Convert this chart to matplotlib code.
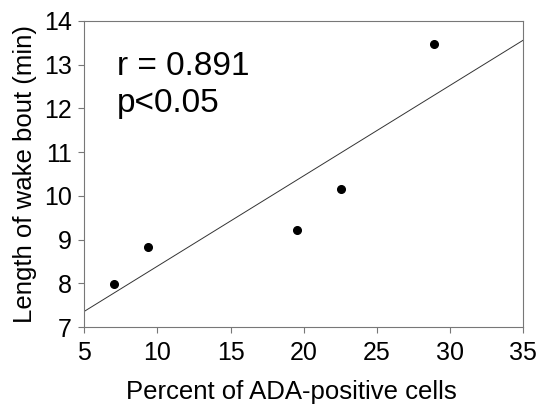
import matplotlib
matplotlib.use('Agg')
import matplotlib.pyplot as plt
import numpy as np

plt.rcParams['font.family'] = ['Liberation Sans', 'DejaVu Sans']

# данные
ada_percent = [7.05, 9.37, 19.56, 22.52, 28.88]
wake_bout = [7.99, 8.84, 9.23, 10.16, 13.47]
x_ticks = [5, 10, 15, 20, 25, 30, 35]
y_ticks = [7, 8, 9, 10, 11, 12, 13, 14]

fig = plt.figure(figsize=(5.48, 4.18), dpi=100)
ax = fig.add_axes([0.1538, 0.2177, 0.8012, 0.7321])

# линия регрессии
slope, intercept = np.polyfit(ada_percent, wake_bout, 1)
line_x = np.array([5, 35])
ax.plot(line_x, intercept + slope * line_x, color='#333333', linewidth=0.7)

ax.plot(ada_percent, wake_bout, 'o', color='black', markersize=5.5)

ax.set_xlim(5, 35)
ax.set_ylim(7, 14)
ax.set_xticks(x_ticks)
ax.set_yticks(y_ticks)

for s in ax.spines.values():
    s.set_color('#777777')
    s.set_linewidth(0.8)
ax.tick_params(direction='out', length=4, width=0.8, color='#777777',
               labelsize=18, labelcolor='black')
ax.tick_params(axis='x', pad=6)
ax.tick_params(axis='y', pad=5)

ax.set_xlabel('Percent of ADA-positive cells', fontsize=18.5, labelpad=11, x=0.472)
ax.set_ylabel('Length of wake bout (min)', fontsize=18.5, labelpad=5)

ax.text(0.074, 0.824, 'r = 0.891', transform=ax.transAxes, fontsize=24)
ax.text(0.074, 0.704, 'p<0.05', transform=ax.transAxes, fontsize=24)

plt.savefig('out.png', dpi=100)
